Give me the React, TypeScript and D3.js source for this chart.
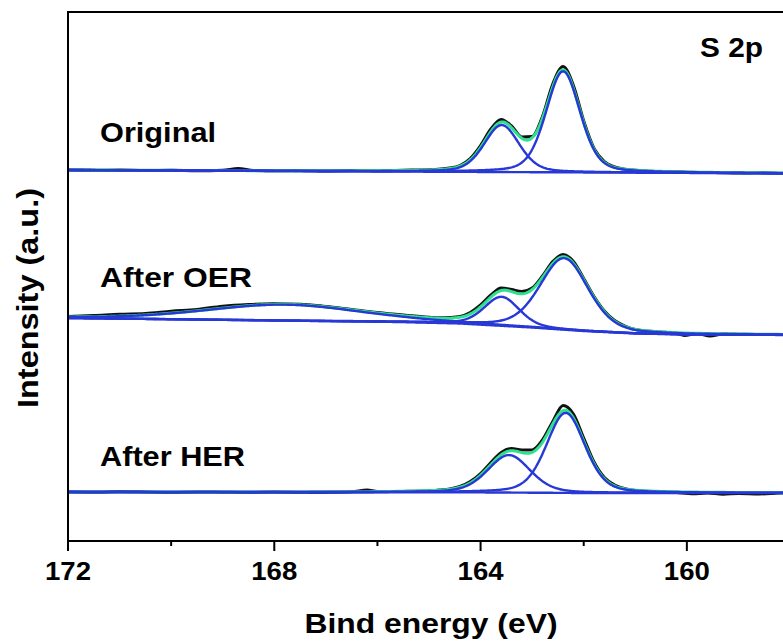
import React from "react";
import * as d3 from "d3";

// ---------- layout ----------
const WIDTH = 783;
const HEIGHT = 643;
const PLOT_LEFT = 68;
const PLOT_RIGHT = 790;
const PLOT_TOP = 12;
const PLOT_BOTTOM = 541;

// ---------- axis data ----------
const X_DOMAIN: [number, number] = [172, 158];
const Y_DOMAIN: [number, number] = [0, 529];
const MAJOR_TICKS = [172, 168, 164, 160];
const MINOR_TICKS = [170, 166, 162, 158];
const X_TITLE = "Bind energy (eV)";
const Y_TITLE = "Intensity (a.u.)";
const PANEL_TITLE = "S 2p";
const SPECTRUM_LABELS = ["Original", "After OER", "After HER"];

// ---------- Original ----------
const originalRaw: [number, number][] = [
  [172, 370.9], [171.5, 370.7], [171, 370.9], [170.5, 370.5], [170, 370.7], [169.5, 370.3],
  [169, 370.8], [168.7, 372.5], [168.4, 370.5], [168, 370.2], [167.5, 370.4], [167, 370.0],
  [166.5, 370.4], [166, 370.3], [165.5, 370.8], [165, 371.3], [164.6, 373], [164.4, 375.5],
  [164.2, 382.5], [164.0, 395.5], [163.8, 412], [163.6, 421.5], [163.4, 415], [163.2, 404],
  [163.0, 404.5], [162.8, 424.5], [162.6, 457], [162.4, 474.5], [162.2, 455.5], [162.0, 420],
  [161.8, 392.5], [161.6, 379.5], [161.4, 374], [161.2, 371.8], [161.0, 370.8], [160.6, 369.6],
  [160.2, 369.2], [159.8, 368.5], [159.4, 368.6], [159.0, 368.0], [158.6, 368.2], [158.2, 367.8],
  [158, 367.8],
];
const originalBackground: [number, number][] = [[172, 371], [158, 367.6]];
const originalPeaks = [
  { center: 162.4, height: 101, fwhm: 0.78 },
  { center: 163.59, height: 47, fwhm: 0.8 },
];

// ---------- After OER ----------
const oerRaw: [number, number][] = [
  [172, 224.5], [171.5, 225.5], [171, 226.8], [170.5, 227.5], [170, 229.8], [169.5, 231.5],
  [169, 234.8], [168.5, 236.5], [168, 237.2], [167.5, 236.8], [167, 234.5], [166.5, 231.5],
  [166, 228.5], [165.5, 226], [165, 223.8], [164.8, 223.2], [164.6, 223.5], [164.4, 224.5],
  [164.2, 228.5], [164.0, 236], [163.8, 246], [163.6, 253], [163.4, 251.5], [163.2, 249.5],
  [163.0, 253], [162.8, 265], [162.6, 279.5], [162.4, 286.5], [162.2, 279.5], [162.0, 262.5],
  [161.8, 244.5], [161.6, 230], [161.4, 220.5], [161.2, 215], [161.0, 211.5], [160.6, 209.2],
  [160.2, 207.5], [160.05, 205.5], [159.8, 207.4], [159.55, 205], [159.3, 207], [159, 206.8],
  [158.6, 206.5], [158.2, 206.6], [158, 206.4],
];
const oerBackground: [number, number][] = [
  [172, 223], [165.6, 219], [164.4, 217.5], [163.0, 213.5], [162.0, 210], [161.0, 207.5],
  [160.0, 206.5], [158, 206],
];
const oerPeaks = [
  { center: 162.38, height: 71.5, fwhm: 1.1 },
  { center: 163.59, height: 29, fwhm: 0.8 },
  { center: 167.8, height: 16, fwhm: 3.6 },
];

// ---------- After HER ----------
const herRaw: [number, number][] = [
  [172, 49.2], [171.5, 48.8], [171, 49.4], [170.5, 49.0], [170, 48.6], [169.5, 49.1],
  [169, 48.8], [168.5, 48.5], [168, 48.9], [167.5, 48.4], [167, 48.6], [166.5, 49.2],
  [166.2, 51], [166, 49.4], [165.5, 49.6], [165, 50.2], [164.8, 51], [164.6, 52],
  [164.4, 54.5], [164.2, 59.5], [164.0, 67.5], [163.8, 78.5], [163.6, 88.5], [163.4, 92.5],
  [163.2, 91], [163.0, 91], [162.8, 101], [162.6, 119.5], [162.4, 135.5], [162.2, 127],
  [162.0, 103], [161.8, 79], [161.6, 63.5], [161.4, 56], [161.2, 52.3], [161.0, 50.5],
  [160.6, 49.3], [160.2, 48.6], [159.9, 47.2], [159.6, 48.0], [159.3, 46.8], [159.0, 47.5],
  [158.6, 47], [158.2, 48.0], [158, 48.2],
];
const herBackground: [number, number][] = [
  [172, 49], [168, 48.8], [164, 48.6], [163, 48.3], [162, 48], [158, 48],
];
const herPeaks = [
  { center: 162.35, height: 80, fwhm: 0.88 },
  { center: 163.45, height: 37.5, fwhm: 0.97 },
];

const LORENTZ_MIX = 0.3;

const spectra = [
  { label: SPECTRUM_LABELS[0], raw: originalRaw, background: originalBackground, peaks: originalPeaks, labelY: 142, labelLen: 116 },
  { label: SPECTRUM_LABELS[1], raw: oerRaw, background: oerBackground, peaks: oerPeaks, labelY: 287, labelLen: 152 },
  { label: SPECTRUM_LABELS[2], raw: herRaw, background: herBackground, peaks: herPeaks, labelY: 466, labelLen: 145 },
];

const RAW_COLOR = "#111111";
const FIT_COLOR = "#30e090";
const COMP_COLOR = "#2838d6";
const FONT = "'Liberation Sans', Arial, Helvetica, sans-serif";

type Peak = { center: number; height: number; fwhm: number };

function pseudoVoigt(e: number, p: Peak) {
  const t = (e - p.center) / p.fwhm;
  return p.height * ((1 - LORENTZ_MIX) * Math.exp(-4 * Math.LN2 * t * t) + LORENTZ_MIX / (1 + 4 * t * t));
}

function backgroundAt(e: number, pts: [number, number][]) {
  for (let i = 0; i < pts.length - 1; i++) {
    const [e0, v0] = pts[i];
    const [e1, v1] = pts[i + 1];
    if (e <= e0 && e >= e1) {
      const f = (e0 - e) / (e0 - e1);
      return v0 + f * (v1 - v0);
    }
  }
  return e > pts[0][0] ? pts[0][1] : pts[pts.length - 1][1];
}

export default function App() {
  const x = d3.scaleLinear().domain(X_DOMAIN).range([PLOT_LEFT, PLOT_RIGHT]);
  const y = d3.scaleLinear().domain(Y_DOMAIN).range([PLOT_BOTTOM, PLOT_TOP]);

  const grid = d3.range(X_DOMAIN[0], X_DOMAIN[1] - 0.001, -0.02);
  const line = d3
    .line<[number, number]>()
    .x((d) => x(d[0]))
    .y((d) => y(d[1]));
  const rawLine = d3
    .line<[number, number]>()
    .x((d) => x(d[0]))
    .y((d) => y(d[1]))
    .curve(d3.curveMonotoneX);

  return (
    <svg
      width={WIDTH}
      height={HEIGHT}
      style={{ position: "absolute", left: 0, top: 0, background: "#fff" }}
      fontFamily={FONT}
    >
      <defs>
        <clipPath id="plotClip">
          <rect x={PLOT_LEFT} y={PLOT_TOP} width={PLOT_RIGHT - PLOT_LEFT} height={PLOT_BOTTOM - PLOT_TOP} />
        </clipPath>
      </defs>
      <rect width={WIDTH} height={HEIGHT} fill="#fff" />

      <g clipPath="url(#plotClip)">
        {spectra.map((s, i) => {
          const bg = grid.map((e) => [e, backgroundAt(e, s.background)] as [number, number]);
          const env = grid.map(
            (e) => [e, backgroundAt(e, s.background) + s.peaks.reduce((acc, p) => acc + pseudoVoigt(e, p), 0)] as [number, number]
          );
          return (
            <g key={i}>
              <path d={rawLine(s.raw) || ""} fill="none" stroke={RAW_COLOR} strokeWidth={3} strokeLinejoin="round" />
              <path d={line(env) || ""} fill="none" stroke={FIT_COLOR} strokeWidth={3} strokeLinejoin="round" />
              <path d={line(bg) || ""} fill="none" stroke={COMP_COLOR} strokeWidth={2.4} />
              {s.peaks.map((p, j) => {
                const comp = grid.map((e) => [e, backgroundAt(e, s.background) + pseudoVoigt(e, p)] as [number, number]);
                return <path key={j} d={line(comp) || ""} fill="none" stroke={COMP_COLOR} strokeWidth={2.4} strokeLinejoin="round" />;
              })}
            </g>
          );
        })}
      </g>

      {/* frame */}
      <rect
        x={PLOT_LEFT}
        y={PLOT_TOP}
        width={PLOT_RIGHT - PLOT_LEFT}
        height={PLOT_BOTTOM - PLOT_TOP}
        fill="none"
        stroke="#000"
        strokeWidth={2}
      />

      {/* ticks */}
      {MAJOR_TICKS.map((t) => (
        <g key={"M" + t}>
          <line x1={x(t)} x2={x(t)} y1={PLOT_BOTTOM} y2={PLOT_BOTTOM + 10} stroke="#000" strokeWidth={2} />
          <text
            x={x(t)}
            y={580}
            textAnchor="middle"
            fontSize={25}
            fontWeight="bold"
            textLength={46}
            lengthAdjust="spacingAndGlyphs"
          >
            {t}
          </text>
        </g>
      ))}
      {MINOR_TICKS.map((t) => (
        <line key={"m" + t} x1={x(t)} x2={x(t)} y1={PLOT_BOTTOM} y2={PLOT_BOTTOM + 5} stroke="#000" strokeWidth={2} />
      ))}

      {/* labels */}
      {spectra.map((s, i) => (
        <text
          key={"l" + i}
          x={100}
          y={s.labelY}
          fontSize={28}
          fontWeight="bold"
          textLength={s.labelLen}
          lengthAdjust="spacingAndGlyphs"
        >
          {s.label}
        </text>
      ))}
      <text x={700} y={57} fontSize={28} fontWeight="bold" textLength={63} lengthAdjust="spacingAndGlyphs">
        {PANEL_TITLE}
      </text>

      <text
        x={431}
        y={633}
        textAnchor="middle"
        fontSize={28}
        fontWeight="bold"
        textLength={253}
        lengthAdjust="spacingAndGlyphs"
      >
        {X_TITLE}
      </text>
      <text
        transform={`translate(38, 298) rotate(-90)`}
        textAnchor="middle"
        fontSize={30}
        fontWeight="bold"
        textLength={220}
        lengthAdjust="spacingAndGlyphs"
      >
        {Y_TITLE}
      </text>
    </svg>
  );
}
